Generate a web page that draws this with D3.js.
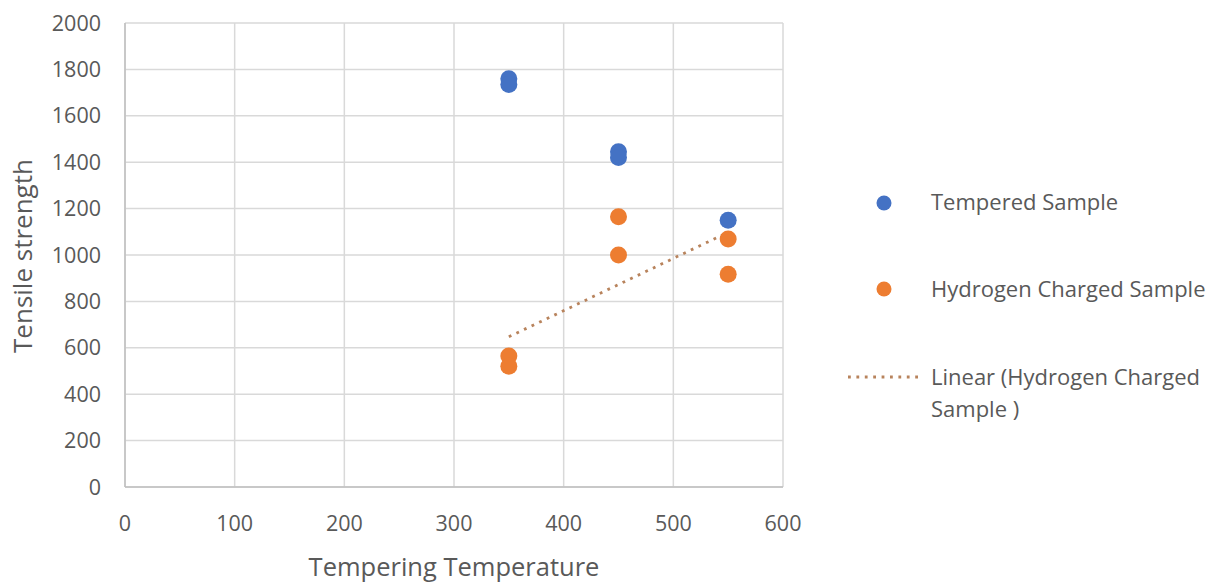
<!DOCTYPE html>
<html>
<head>
<meta charset="utf-8">
<script src="https://cdn.jsdelivr.net/npm/d3@7"></script>
<style>
html,body{margin:0;padding:0;background:#fff;}
svg text{font-family:"Open Sans","Lato",sans-serif;fill:#595959;}
</style>
</head>
<body>
<svg id="chart" width="1225" height="585"></svg>
<script>
const xTicks = [0, 100, 200, 300, 400, 500, 600];
const yTicks = [0, 200, 400, 600, 800, 1000, 1200, 1400, 1600, 1800, 2000];
const temperedX = [350, 350, 450, 450, 550];
const temperedY = [1760, 1735, 1445, 1420, 1150];
const hydrogenX = [350, 350, 450, 450, 550, 550];
const hydrogenY = [565, 520, 1165, 1000, 1069, 917];
const seriesNames = ["Tempered Sample", "Hydrogen Charged Sample"];
const trendName = ["Linear (Hydrogen Charged", "Sample )"];
const xTitle = "Tempering Temperature";
const yTitle = "Tensile strength";

const svg = d3.select("#chart");
const x = d3.scaleLinear().domain([0, 600]).range([125, 783]);
const y = d3.scaleLinear().domain([0, 2000]).range([487, 23]);
const blue = "#4472C4", orange = "#ED7D31", trendCol = "#b8835c";

// grid
svg.append("g").selectAll("line").data(yTicks).join("line")
  .attr("x1", x(0)).attr("x2", x(600)).attr("y1", d => y(d)).attr("y2", d => y(d))
  .attr("stroke", "#d9d9d9").attr("stroke-width", 1.5);
svg.append("g").selectAll("line").data(xTicks).join("line")
  .attr("y1", y(0)).attr("y2", y(2000)).attr("x1", d => x(d)).attr("x2", d => x(d))
  .attr("stroke", "#d9d9d9").attr("stroke-width", 1.5);
// axes lines
svg.append("line").attr("x1", x(0)).attr("x2", x(600)).attr("y1", y(0)).attr("y2", y(0))
  .attr("stroke", "#bfbfbf").attr("stroke-width", 1.5);
svg.append("line").attr("x1", x(0)).attr("x2", x(0)).attr("y1", y(0)).attr("y2", y(2000))
  .attr("stroke", "#bfbfbf").attr("stroke-width", 1.5);

// tick labels
svg.append("g").selectAll("text").data(yTicks).join("text")
  .attr("x", 101).attr("y", d => y(d)).attr("dy", "0.35em")
  .attr("text-anchor", "end").style("font-size", "21.5px").text(d => d);
svg.append("g").selectAll("text").data(xTicks).join("text")
  .attr("x", d => x(d)).attr("y", 523).attr("dy", "0.35em")
  .attr("text-anchor", "middle").style("font-size", "21.5px").text(d => d);

// axis titles
svg.append("text").attr("x", 454).attr("y", 567).attr("dy", "0.35em")
  .attr("text-anchor", "middle").style("font-size", "25.5px").text(xTitle);
svg.append("text").attr("transform", `translate(23,256) rotate(-90)`)
  .attr("dy", "0.35em").attr("text-anchor", "middle").style("font-size", "26px").text(yTitle);

// trendline via least squares
const mx = d3.mean(hydrogenX), my = d3.mean(hydrogenY);
const slope = d3.sum(hydrogenX.map((v, i) => (v - mx) * (hydrogenY[i] - my))) /
              d3.sum(hydrogenX.map(v => (v - mx) * (v - mx)));
const icpt = my - slope * mx;
const tx = [d3.min(hydrogenX), d3.max(hydrogenX)];
svg.append("line")
  .attr("x1", x(tx[0])).attr("y1", y(icpt + slope * tx[0]))
  .attr("x2", x(tx[1])).attr("y2", y(icpt + slope * tx[1]))
  .attr("stroke", trendCol).attr("stroke-width", 2.8)
  .attr("stroke-dasharray", "2.8,5.6");

// points
svg.append("g").selectAll("circle").data(hydrogenX).join("circle")
  .attr("cx", d => x(d)).attr("cy", (d, i) => y(hydrogenY[i])).attr("r", 8.5)
  .attr("fill", orange);
svg.append("g").selectAll("circle").data(temperedX).join("circle")
  .attr("cx", d => x(d)).attr("cy", (d, i) => y(temperedY[i])).attr("r", 8.5)
  .attr("fill", blue);

// legend
const leg = svg.append("g");
leg.append("circle").attr("cx", 884).attr("cy", 203).attr("r", 7.5).attr("fill", blue);
leg.append("text").attr("x", 931).attr("y", 202).attr("dy", "0.35em").style("font-size", "22px").text(seriesNames[0]);
leg.append("circle").attr("cx", 884).attr("cy", 289).attr("r", 7.5).attr("fill", orange);
leg.append("text").attr("x", 931).attr("y", 289).attr("dy", "0.35em").style("font-size", "22px").text(seriesNames[1]);
leg.append("line").attr("x1", 848).attr("x2", 922).attr("y1", 377).attr("y2", 377)
  .attr("stroke", trendCol).attr("stroke-width", 2.8).attr("stroke-dasharray", "2.8,5.6");
leg.append("text").attr("x", 931).attr("y", 377).attr("dy", "0.35em").style("font-size", "22px").text(trendName[0]);
leg.append("text").attr("x", 931).attr("y", 409).attr("dy", "0.35em").style("font-size", "22px").text(trendName[1]);
</script>
</body>
</html>
